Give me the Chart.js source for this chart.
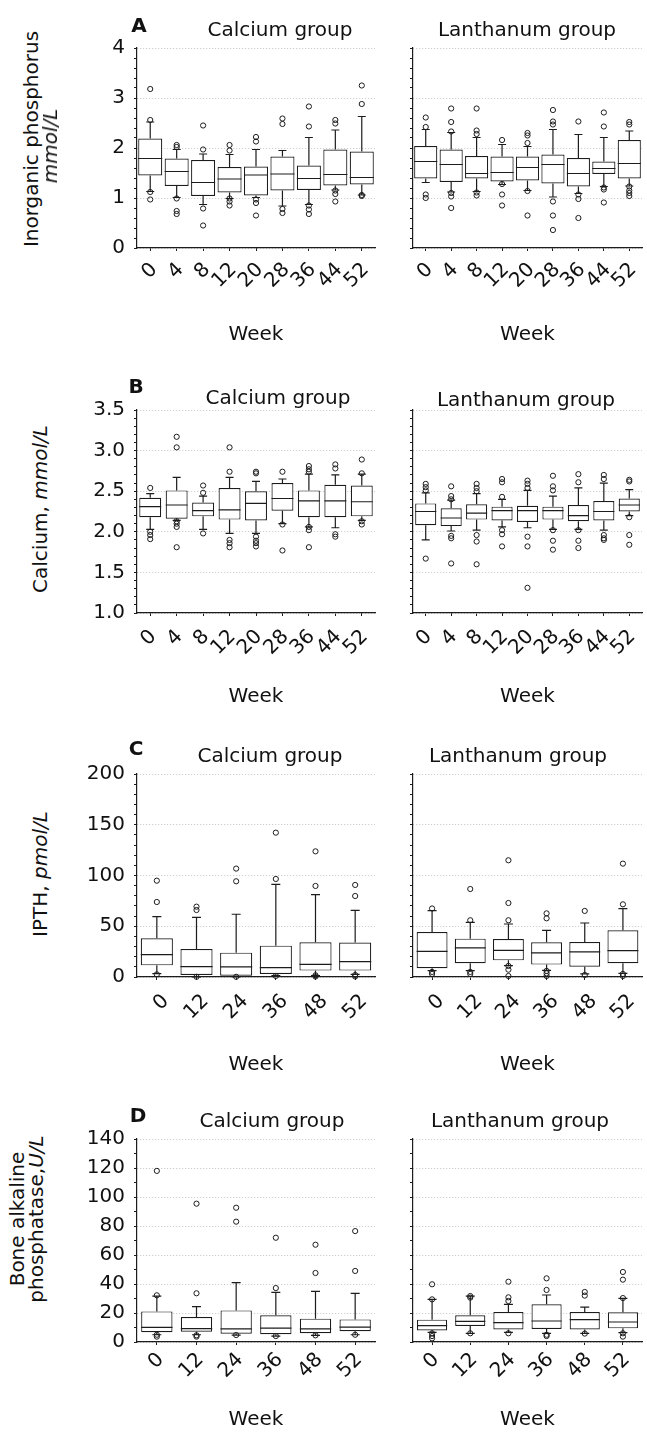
<!DOCTYPE html>
<html><head><meta charset="utf-8">
<script src="https://cdn.jsdelivr.net/npm/chart.js@4/dist/chart.umd.min.js"></script>
<style>
html,body{margin:0;padding:0;background:#fff;}
body{width:647px;height:1432px;position:relative;overflow:hidden;font-family:"DejaVu Sans",sans-serif;color:#111;}
.cv{position:absolute;}
.t{position:absolute;white-space:nowrap;font-size:20px;line-height:1;transform:translate(-50%,-50%);}
.lt{font-weight:bold;}
.yl{position:absolute;white-space:nowrap;font-size:20px;line-height:1;transform:translate(-50%,-50%) rotate(-90deg);}
</style></head><body>
<canvas id="aL" class="cv" width="320" height="322" style="left:60px;top:28px"></canvas>
<canvas id="aR" class="cv" width="252" height="322" style="left:395px;top:28px"></canvas>
<canvas id="bL" class="cv" width="320" height="322" style="left:60px;top:390px"></canvas>
<canvas id="bR" class="cv" width="252" height="322" style="left:395px;top:390px"></canvas>
<canvas id="cL" class="cv" width="320" height="326" style="left:60px;top:754px"></canvas>
<canvas id="cR" class="cv" width="252" height="326" style="left:395px;top:754px"></canvas>
<canvas id="dL" class="cv" width="320" height="313" style="left:60px;top:1119px"></canvas>
<canvas id="dR" class="cv" width="252" height="313" style="left:395px;top:1119px"></canvas>

<div class="t lt" style="left:139px;top:25px">A</div>
<div class="t" style="left:280px;top:29px">Calcium group</div>
<div class="t" style="left:527px;top:29px">Lanthanum group</div>
<div class="yl" style="left:31px;top:139px">Inorganic phosphorus</div>
<div class="yl" style="left:50px;top:146px"><i>mmol/L</i></div>

<div class="t lt" style="left:136px;top:386px">B</div>
<div class="t" style="left:278px;top:397px">Calcium group</div>
<div class="t" style="left:526px;top:399px">Lanthanum group</div>
<div class="yl" style="left:40px;top:509px">Calcium, <i>mmol/L</i></div>

<div class="t lt" style="left:136px;top:748px">C</div>
<div class="t" style="left:270px;top:755px">Calcium group</div>
<div class="t" style="left:518px;top:755px">Lanthanum group</div>
<div class="yl" style="left:40px;top:874px">IPTH, <i>pmol/L</i></div>

<div class="t lt" style="left:138px;top:1115px">D</div>
<div class="t" style="left:272px;top:1120px">Calcium group</div>
<div class="t" style="left:520px;top:1120px">Lanthanum group</div>
<div class="yl" style="left:17px;top:1219px">Bone alkaline</div>
<div class="yl" style="left:36px;top:1219px">phosphatase,<i>U/L</i></div>

<script>
// ---------- categories ----------
const weeksAB = ['0','4','8','12','20','28','36','44','52'];
const weeksCD = ['0','12','24','36','48','52'];
const weekTitle = 'Week';

// ---------- y tick labels ----------
const yLabelsA = ['0','1','2','3','4'];
const yLabelsB = ['1.0','1.5','2.0','2.5','3.0','3.5'];
const yLabelsC = ['0','50','100','150','200'];
const yLabelsD = ['0','20','40','60','80','100','120','140'];

// ---------- A: inorganic phosphorus, calcium group ----------
const phosCaLow  = [1.13, 1.01, 0.87, 0.99, 1.01, 0.84, 0.87, 1.16, 1.06];
const phosCaQ1   = [1.45, 1.24, 1.04, 1.11, 1.05, 1.15, 1.16, 1.25, 1.27];
const phosCaMed  = [1.79, 1.53, 1.31, 1.38, 1.46, 1.48, 1.39, 1.47, 1.41];
const phosCaQ3   = [2.19, 1.79, 1.76, 1.62, 1.63, 1.83, 1.65, 1.97, 1.93];
const phosCaHigh = [2.52, 1.97, 1.88, 1.87, 1.97, 1.95, 2.21, 2.36, 2.63];
const phosCaOut  = [[3.18,2.56,1.12,0.97],[2.06,2.02,0.99,0.74,0.68],[2.45,1.97,0.79,0.45],[2.06,1.95,0.99,0.93,0.85],[2.22,2.13,0.97,0.90,0.65],[2.59,2.48,0.78,0.70],[2.83,2.43,0.85,0.77,0.68],[2.56,2.49,1.15,1.08,0.93],[3.25,2.88,1.06,1.04]];

// ---------- A: inorganic phosphorus, lanthanum group ----------
const phosLaLow  = [1.31, 1.12, 1.13, 1.27, 1.15, 1.02, 1.09, 1.23, 1.24];
const phosLaQ1   = [1.39, 1.32, 1.39, 1.33, 1.35, 1.29, 1.23, 1.48, 1.39];
const phosLaMed  = [1.73, 1.67, 1.49, 1.51, 1.61, 1.67, 1.49, 1.59, 1.69];
const phosLaQ3   = [2.04, 1.97, 1.84, 1.83, 1.83, 1.87, 1.80, 1.73, 2.16];
const phosLaHigh = [2.37, 2.31, 2.21, 2.07, 2.03, 2.37, 2.27, 2.21, 2.34];
const phosLaOut  = [[2.61,2.42,1.07,1.00],[2.79,2.52,2.33,1.10,1.03,0.80],[2.79,2.35,2.28,1.11,1.05],[2.16,1.28,1.07,0.85],[2.30,2.25,2.10,1.14,0.65],[2.76,2.53,2.47,0.93,0.65,0.36],[2.53,1.07,0.98,0.60],[2.71,2.43,1.21,1.17,0.91],[2.52,2.47,1.23,1.15,1.10,1.04]];

// ---------- B: calcium, calcium group ----------
const caCaLow  = [2.03, 2.14, 2.03, 1.98, 1.98, 2.10, 2.06, 2.05, 2.14];
const caCaQ1   = [2.18, 2.16, 2.19, 2.15, 2.14, 2.26, 2.18, 2.18, 2.19];
const caCaMed  = [2.31, 2.33, 2.26, 2.27, 2.35, 2.41, 2.38, 2.38, 2.37];
const caCaQ3   = [2.42, 2.51, 2.36, 2.54, 2.50, 2.60, 2.51, 2.58, 2.57];
const caCaHigh = [2.47, 2.67, 2.44, 2.67, 2.62, 2.65, 2.71, 2.70, 2.71];
const caCaOut  = [[2.54,2.00,1.96,1.91],[3.17,3.04,2.13,2.10,2.06,1.81],[2.57,2.48,1.98],[3.04,2.74,1.90,1.86,1.81],[2.74,2.72,1.94,1.89,1.86,1.82],[2.74,2.09,1.77],[2.81,2.77,2.74,2.06,2.02,1.81],[2.83,2.78,1.97,1.94],[2.89,2.72,2.13,2.09]];

// ---------- B: calcium, lanthanum group ----------
const caLaLow  = [1.90, 2.01, 2.02, 2.06, 2.05, 2.03, 2.03, 2.02, 2.20];
const caLaQ1   = [2.08, 2.07, 2.15, 2.14, 2.12, 2.15, 2.13, 2.14, 2.25];
const caLaMed  = [2.25, 2.17, 2.23, 2.26, 2.26, 2.26, 2.20, 2.25, 2.33];
const caLaQ3   = [2.35, 2.29, 2.34, 2.31, 2.32, 2.31, 2.33, 2.38, 2.41];
const caLaHigh = [2.48, 2.39, 2.47, 2.40, 2.51, 2.44, 2.54, 2.60, 2.52];
const caLaOut  = [[2.59,2.55,2.51,1.67],[2.56,2.44,2.40,1.95,1.92,1.61],[2.59,2.54,2.50,1.96,1.88,1.60],[2.65,2.61,2.43,2.02,1.97,1.82],[2.63,2.59,2.54,1.94,1.82,1.31],[2.69,2.56,2.51,2.02,1.89,1.78],[2.71,2.61,2.02,1.89,1.80],[2.70,2.65,1.96,1.92,1.90],[2.64,2.62,2.18,1.96,1.84]];

// ---------- C: iPTH, calcium group ----------
const pthCaLow  = [3.3, 0, 0, 1.3, 1.3, 2.6];
const pthCaQ1   = [11.5, 2.0, 1.3, 3.0, 6.3, 6.3];
const pthCaMed  = [22.0, 10.2, 9.9, 9.2, 12.5, 15.1];
const pthCaQ3   = [38.1, 27.6, 24.0, 30.9, 34.2, 33.9];
const pthCaHigh = [59.5, 58.8, 61.8, 91.3, 81.1, 65.7];
const pthCaOut  = [[94.9,73.9,2.6],[69.3,66.0,0.2],[106.8,94.3,0.2],[142.2,96.6,1.0],[123.8,89.7,1.7,0.5],[90.7,79.8,2.0,0.5]];

// ---------- C: iPTH, lanthanum group ----------
const pthLaLow  = [6.3, 6.3, 11.2, 6.6, 3.0, 3.6];
const pthLaQ1   = [8.6, 13.5, 16.4, 12.2, 10.2, 13.5];
const pthLaMed  = [25.3, 28.6, 26.3, 23.7, 24.7, 26.0];
const pthLaQ3   = [44.4, 37.8, 37.5, 34.2, 34.5, 46.0];
const pthLaHigh = [65.4, 53.9, 52.2, 46.0, 53.2, 67.3];
const pthLaOut  = [[67.5,5.0,3.0],[86.7,55.9,5.0,3.0],[115.0,72.9,55.9,10.9,7.2,1.0],[62.7,57.8,6.0,3.6,1.0],[65.1,2.0],[111.7,71.6,3.0,1.0]];

// ---------- D: bone alkaline phosphatase, calcium group ----------
const balpCaLow  = [5.0, 5.0, 4.8, 4.1, 4.6, 5.0];
const balpCaQ1   = [6.7, 7.1, 5.7, 5.3, 6.0, 7.4];
const balpCaMed  = [10.1, 9.2, 9.0, 9.6, 9.0, 10.3];
const balpCaQ3   = [21.1, 17.2, 21.8, 18.4, 16.1, 15.6];
const balpCaHigh = [31.7, 24.4, 40.9, 34.2, 34.9, 33.6];
const balpCaOut  = [[118.0,32.2,5.0,3.7],[95.4,33.6,4.6,3.7],[92.6,83.0,4.8],[71.9,37.2,4.1],[67.1,47.6,4.6],[76.5,49.0,5.0]];

// ---------- D: bone alkaline phosphatase, lanthanum group ----------
const balpLaLow  = [6.7, 6.0, 6.7, 6.0, 6.0, 6.4];
const balpLaQ1   = [8.0, 11.0, 8.7, 9.0, 8.7, 9.4];
const balpLaMed  = [11.3, 14.2, 13.3, 14.5, 15.4, 13.8];
const balpLaQ3   = [15.4, 18.4, 20.7, 26.0, 20.7, 20.5];
const balpLaHigh = [29.4, 31.7, 26.0, 32.4, 24.1, 30.1];
const balpLaOut  = [[39.8,29.4,6.0,4.1,2.5],[31.7,30.6,6.0],[41.6,30.8,28.3,6.0],[43.9,35.9,5.0,4.1],[34.5,32.0,5.8],[48.3,43.0,30.3,6.0,3.7]];

// ---------- rendering ----------
const FONT = '"DejaVu Sans", sans-serif';
const INK = '#1c1c1c';
const GRID = '#c4c4c4';

const boxPlugin = {
  id: 'boxWhiskers',
  afterDatasetDraw(chart, args, opts) {
    if (args.index !== 0) return;
    const ctx = chart.ctx, x = chart.scales.x, y = chart.scales.y;
    const meta = chart.getDatasetMeta(0);
    ctx.save();
    ctx.strokeStyle = INK;
    ctx.lineWidth = 1.2;
    ctx.lineCap = 'butt';
    opts.med.forEach((m, i) => {
      const bar = meta.data[i];
      const cx = x.getPixelForValue(i);
      const half = bar.width / 2;
      const cap = opts.cap;
      const yMed = y.getPixelForValue(m);
      const yQ1 = y.getPixelForValue(opts.q1[i]);
      const yQ3 = y.getPixelForValue(opts.q3[i]);
      const yLo = y.getPixelForValue(opts.low[i]);
      const yHi = y.getPixelForValue(opts.high[i]);
      ctx.beginPath();
      ctx.moveTo(cx - half, yMed); ctx.lineTo(cx + half, yMed);
      ctx.moveTo(cx, yQ3); ctx.lineTo(cx, yHi);
      ctx.moveTo(cx - cap, yHi); ctx.lineTo(cx + cap, yHi);
      ctx.moveTo(cx, yQ1); ctx.lineTo(cx, yLo);
      ctx.moveTo(cx - cap, yLo); ctx.lineTo(cx + cap, yLo);
      ctx.stroke();
    });
    ctx.restore();
  }
};

function outlierPoints(labels, out) {
  const pts = [];
  out.forEach((vals, i) => vals.forEach(v => pts.push({x: labels[i], y: v})));
  return pts;
}

function boxChart(id, p) {
  const near = (a, b) => Math.abs(a - b) < 1e-6;
  const majors = p.majorLabels.map(Number);
  const isMajor = v => majors.some(m => near(m, v));
  return new Chart(document.getElementById(id), {
    type: 'bar',
    plugins: [boxPlugin],
    data: {
      labels: p.labels,
      datasets: [
        {type: 'bar', data: p.q1.map((v, i) => [v, p.q3[i]]), backgroundColor: '#ffffff',
         borderColor: INK, borderWidth: 1.2, borderSkipped: false,
         barPercentage: p.barPct, categoryPercentage: 1, clip: false, order: 2},
        {type: 'line', data: outlierPoints(p.labels, p.out), showLine: false,
         pointStyle: 'circle', pointRadius: 2.6, pointBorderWidth: 1,
         pointBackgroundColor: 'rgba(0,0,0,0)', pointBorderColor: INK, clip: false, order: 1}
      ]
    },
    options: {
      responsive: false, animation: false, events: [],
      layout: {padding: {top: 20, right: p.padRight, bottom: 0, left: 0}},
      plugins: {
        legend: {display: false}, tooltip: {enabled: false}, title: {display: false},
        boxWhiskers: {low: p.low, q1: p.q1, med: p.med, q3: p.q3, high: p.high, cap: p.cap}
      },
      scales: {
        x: {
          type: 'category', offset: true,
          grid: {display: true, drawOnChartArea: false, drawTicks: true, tickLength: 3, offset: false, color: INK, tickColor: INK},
          border: {display: true, color: INK, width: 1.2},
          ticks: {autoSkip: false, maxRotation: 45, minRotation: 45, padding: p.tickPad, labelOffset: p.labelOffset,
                  color: '#111', font: {family: FONT, size: 20}},
          title: {display: true, text: weekTitle, color: '#111', font: {family: FONT, size: 20},
                  padding: {top: 0, bottom: p.weekPad}},
          afterFit(s) { s.height = p.xh; s.paddingLeft = 0; s.paddingRight = 0; }
        },
        y: {
          type: 'linear', min: p.min, max: p.max,
          grid: {display: true, drawOnChartArea: true, drawTicks: true, tickLength: 3, lineWidth: 1,
                 color: c => (c.tick && isMajor(c.tick.value)) ? GRID : 'rgba(0,0,0,0)', tickColor: INK},
          border: {display: true, color: INK, width: 1.2, dash: [1, 2]},
          ticks: {stepSize: p.step, autoSkip: false, padding: 9, color: '#111', font: {family: FONT, size: 20},
                  callback: v => {
                    if (!p.showLabels) return '';
                    const k = majors.findIndex(m => near(m, v));
                    return k >= 0 ? p.majorLabels[k] : '';
                  }},
          afterFit(s) { s.width = p.yw; s.paddingTop = 0; s.paddingBottom = 0; }
        }
      }
    }
  });
}

const L = {yw: 77, padRight: 5, showLabels: true};
const R = {yw: 18, padRight: 0, showLabels: false};
const A = {labels: weeksAB, min: 0, max: 4, step: 0.2, majorLabels: yLabelsA, xh: 102, barPct: 0.91, cap: 4, tickPad: 7, labelOffset: 4, weekPad: 3};
const B = {labels: weeksAB, min: 1, max: 3.5, step: 0.1, majorLabels: yLabelsB, xh: 99, barPct: 0.83, cap: 4, tickPad: 9, labelOffset: 3, weekPad: 3};
const C = {labels: weeksCD, min: 0, max: 200, step: 10, majorLabels: yLabelsC, xh: 103, barPct: 0.81, cap: 4.5, tickPad: 9.5, labelOffset: 9, weekPad: 3};
const D = {labels: weeksCD, min: 0, max: 140, step: 10, majorLabels: yLabelsD, xh: 90, barPct: 0.79, cap: 4.5, tickPad: 3, labelOffset: 4, weekPad: 0};

boxChart('aL', Object.assign({}, A, L, {low: phosCaLow, q1: phosCaQ1, med: phosCaMed, q3: phosCaQ3, high: phosCaHigh, out: phosCaOut}));
boxChart('aR', Object.assign({}, A, R, {low: phosLaLow, q1: phosLaQ1, med: phosLaMed, q3: phosLaQ3, high: phosLaHigh, out: phosLaOut}));
boxChart('bL', Object.assign({}, B, L, {low: caCaLow, q1: caCaQ1, med: caCaMed, q3: caCaQ3, high: caCaHigh, out: caCaOut}));
boxChart('bR', Object.assign({}, B, R, {low: caLaLow, q1: caLaQ1, med: caLaMed, q3: caLaQ3, high: caLaHigh, out: caLaOut}));
boxChart('cL', Object.assign({}, C, L, {low: pthCaLow, q1: pthCaQ1, med: pthCaMed, q3: pthCaQ3, high: pthCaHigh, out: pthCaOut}));
boxChart('cR', Object.assign({}, C, R, {low: pthLaLow, q1: pthLaQ1, med: pthLaMed, q3: pthLaQ3, high: pthLaHigh, out: pthLaOut}));
boxChart('dL', Object.assign({}, D, L, {low: balpCaLow, q1: balpCaQ1, med: balpCaMed, q3: balpCaQ3, high: balpCaHigh, out: balpCaOut}));
boxChart('dR', Object.assign({}, D, R, {low: balpLaLow, q1: balpLaQ1, med: balpLaMed, q3: balpLaQ3, high: balpLaHigh, out: balpLaOut}));
</script>
</body></html>
